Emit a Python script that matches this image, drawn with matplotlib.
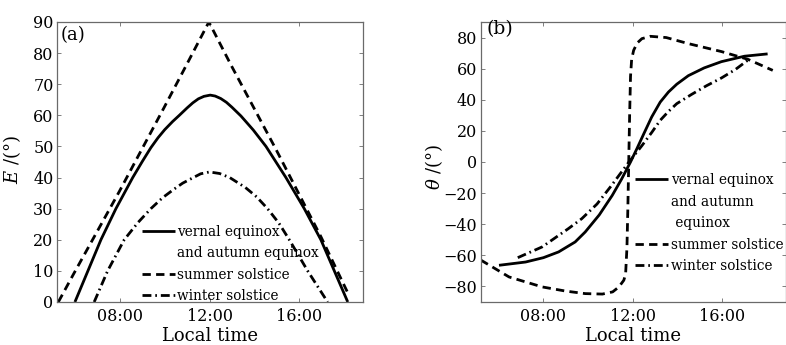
import numpy as np
import matplotlib
matplotlib.use("Agg")
import matplotlib.pyplot as plt
from matplotlib.lines import Line2D

plt.rcParams['font.family'] = ['DejaVu Serif']
plt.rcParams['mathtext.fontset'] = 'dejavuserif'

# ---------------- data: panel (a) elevation E (deg) vs local time (h)
eq_E_t = [5.99, 6.57, 7.15, 7.82, 8.57, 9.0, 9.38, 9.7, 10.0, 10.35, 10.65,
          11.0, 11.25, 11.5, 11.75, 12.03, 12.25, 12.5, 12.75, 13.0, 13.4,
          13.95, 14.52, 15.41, 16.23, 16.97, 17.57, 18.17]
eq_E = [0, 10, 20, 30, 40, 45.2, 49.6, 52.8, 55.4, 58.0, 60.0,
        62.4, 64.0, 65.3, 66.1, 66.5, 66.2, 65.4, 64.2, 62.6, 59.8,
        55.3, 50, 40, 30, 20, 10, 0]

su_E_t = [5.25, 5.93, 6.97, 7.97, 8.97, 9.97, 10.97, 11.97,
          12.97, 13.97, 14.97, 15.97, 16.97, 17.8, 18.2]
su_E = [0, 9, 22.5, 35.5, 49, 62.5, 76.2, 90,
        76, 62.5, 49, 35, 21, 8.5, 2.5]

wi_E_t = [6.85, 7.45, 8.19, 8.8, 9.38, 9.9, 10.42, 10.8, 11.17, 11.6, 12.0,
          12.45, 12.9, 13.6, 14.1, 14.59, 15.1, 15.56, 16.38, 17.27]
wi_E = [0, 10, 20, 25.5, 30, 33.5, 36.3, 38.2, 39.6, 41.2, 41.8,
        41.3, 40, 36.8, 33.8, 30, 25.3, 20, 10, 0]

# ---------------- data: panel (b) azimuth theta (deg) vs local time (h)
eq_T_t = [6.01, 7.2, 8.0, 8.68, 9.42, 9.87, 10.5, 11.08, 11.5, 11.9,
          12.2, 12.49, 12.85, 13.23, 13.6, 13.97, 14.49, 15.2, 15.97,
          17.0, 18.04]
eq_T = [-66.4, -64.3, -61.5, -57.8, -51.4, -45, -34, -21.5, -11, 0,
        9, 18, 29, 38.5, 45, 50, 55.5, 60.5, 64.5,
        68, 69.5]

su_T_t = [5.19, 6.46, 7.94, 9.0, 9.87, 10.64, 11.1, 11.38, 11.6, 11.68,
          11.74, 11.78, 11.82, 11.86, 11.9, 11.95, 12.04, 12.2, 12.41,
          12.79, 13.5, 14.49, 15.97, 17.16, 18.27]
su_T = [-63, -73.9, -80.3, -83, -84.6, -84.9, -83.5, -80.3, -76, -72,
        -55, -30, 0, 30, 55, 66, 71.8, 76.5, 79.3,
        80.8, 80, 76.1, 71, 66, 58.9]

wi_T_t = [6.85, 7.94, 9.12, 9.72, 10.4, 11.0, 11.52, 11.83, 12.41, 12.85,
          13.23, 13.6, 13.97, 14.64, 15.3, 15.97, 16.6, 17.16]
wi_T = [-61.5, -54.6, -42.8, -36.4, -27, -16, -6, 0, 10.5, 19,
        26.8, 32.5, 37.5, 43.5, 49, 54, 59.5, 65.5]

xticks = [8, 12, 16]
xticklabels = ["08:00", "12:00", "16:00"]
yticks_a = [0, 10, 20, 30, 40, 50, 60, 70, 80, 90]
yticks_b = [-80, -60, -40, -20, 0, 20, 40, 60, 80]

# ---------------- styling
LW = 2.0
DASH = [3.0, 1.9]
DASHDOT = [3.2, 1.4, 0.6, 1.4]
SPINE = '#6a6a6a'
TICKFS = 11.5
LABFS = 13
LEGFS = 9.8

fig = plt.figure(figsize=(7.86, 3.45), dpi=100)
W, H = 786.0, 345.0
axa = fig.add_axes([57 / W, 43 / H, 306 / W, 280 / H])
axb = fig.add_axes([480.7 / W, 43 / H, 305 / W, 280 / H])


def style(ax):
    for s in ax.spines.values():
        s.set_color(SPINE)
        s.set_linewidth(0.9)
    ax.tick_params(direction='in', length=3, width=0.6, color=SPINE,
                   top=True, right=True, labelsize=TICKFS)
    ax.tick_params(axis='x', pad=4)
    ax.tick_params(axis='y', pad=2.5)
    ax.set_xticks(xticks)
    ax.set_xticklabels(xticklabels)
    ax.set_xlim(5.19, 18.85)
    ax.set_xlabel("Local time", fontsize=LABFS, labelpad=1.5)


def plot_three(ax, eq_t, eq, su_t, su, wi_t, wi):
    l1, = ax.plot(eq_t, eq, color='black', lw=LW, solid_capstyle='butt',
                  solid_joinstyle='round')
    l2, = ax.plot(su_t, su, color='black', lw=LW, dashes=DASH)
    l3, = ax.plot(wi_t, wi, color='black', lw=LW, dashes=DASHDOT)
    return l1, l2, l3


# panel (a)
la1, la2, la3 = plot_three(axa, eq_E_t, eq_E, su_E_t, su_E, wi_E_t, wi_E)
style(axa)
axa.set_ylim(0, 90)
axa.set_yticks(yticks_a)
axa.set_ylabel(r"$E$ /(°)", fontsize=LABFS)
axa.yaxis.set_label_coords(-0.112, 0.507)
axa.text(0.013, 0.955, "(a)", transform=axa.transAxes, fontsize=13,
         va='center', ha='left')
blank = Line2D([], [], color='none')
axa.legend([la1, blank, la2, la3],
           ["vernal equinox", "and autumn equinox", "summer solstice",
            "winter solstice"],
           loc='upper left', bbox_to_anchor=(0.277, 0.276), frameon=False,
           fontsize=LEGFS, handlelength=2.43, handletextpad=0.15,
           labelspacing=0.55, borderpad=0, borderaxespad=0)

# panel (b)
lb1, lb2, lb3 = plot_three(axb, eq_T_t, eq_T, su_T_t, su_T, wi_T_t, wi_T)
style(axb)
axb.set_ylim(-90, 90)
axb.set_yticks(yticks_b)
axb.set_yticklabels([str(v).replace('-', '\u2212') for v in yticks_b])
axb.set_ylabel(r"$\theta$ /(°)", fontsize=LABFS)
axb.yaxis.set_label_coords(-0.118, 0.483)
axb.text(0.02, 0.976, "(b)", transform=axb.transAxes, fontsize=13.5,
         va='center', ha='left')
axb.legend([lb1, blank, blank, lb2, lb3],
           ["vernal equinox", "and autumn", " equinox", "summer solstice",
            "winter solstice"],
           loc='upper left', bbox_to_anchor=(0.507, 0.46), frameon=False,
           fontsize=LEGFS, handlelength=2.43, handletextpad=0.2,
           labelspacing=0.55, borderpad=0, borderaxespad=0)

fig.savefig("out.png", dpi=100)
